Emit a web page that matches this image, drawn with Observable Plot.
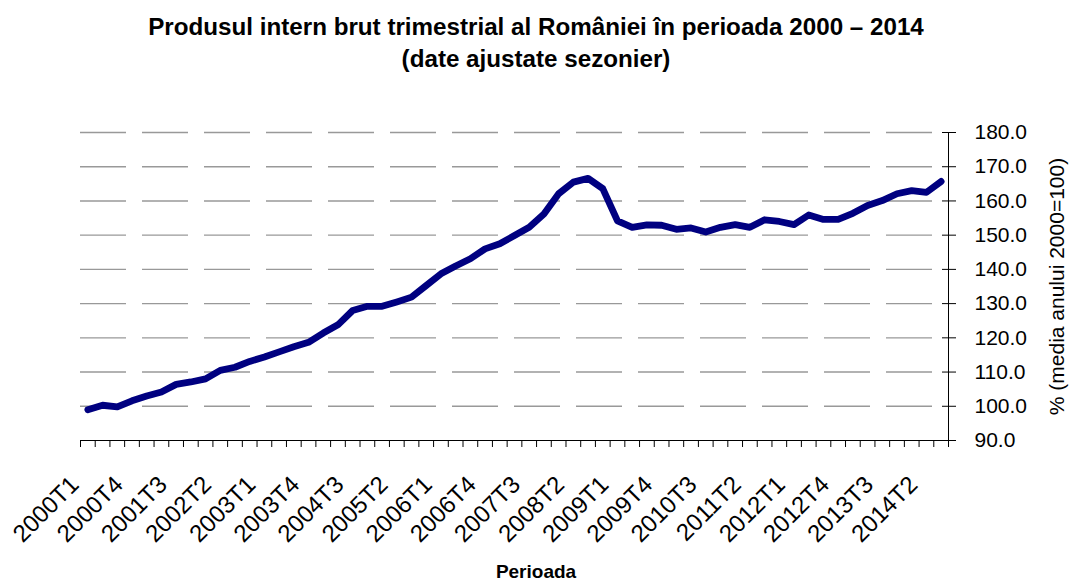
<!DOCTYPE html>
<html><head><meta charset="utf-8">
<script src="https://cdn.jsdelivr.net/npm/d3@7"></script>
<script src="https://cdn.jsdelivr.net/npm/@observablehq/plot@0.6"></script>
<style>body{margin:0;background:#fff;} svg{display:block}</style>
</head><body><div id="chart"></div>
<script>
const periods = [
 "2000T1","2000T2","2000T3","2000T4","2001T1","2001T2","2001T3","2001T4",
 "2002T1","2002T2","2002T3","2002T4","2003T1","2003T2","2003T3","2003T4",
 "2004T1","2004T2","2004T3","2004T4","2005T1","2005T2","2005T3","2005T4",
 "2006T1","2006T2","2006T3","2006T4","2007T1","2007T2","2007T3","2007T4",
 "2008T1","2008T2","2008T3","2008T4","2009T1","2009T2","2009T3","2009T4",
 "2010T1","2010T2","2010T3","2010T4","2011T1","2011T2","2011T3","2011T4",
 "2012T1","2012T2","2012T3","2012T4","2013T1","2013T2","2013T3","2013T4",
 "2014T1","2014T2","2014T3"
];
const gdp = [
 99.0,100.3,99.8,101.6,103.0,104.2,106.4,107.1,
 108.0,110.5,111.4,113.1,114.4,115.9,117.4,118.7,
 121.4,123.8,128.0,129.2,129.2,130.5,131.9,135.3,
 138.7,141.0,143.1,146.0,147.5,149.9,152.3,156.2,
 162.1,165.5,166.6,163.6,154.2,152.3,153.0,152.9,
 151.7,152.1,150.9,152.3,153.1,152.3,154.5,154.0,
 153.1,155.9,154.6,154.6,156.4,158.7,160.1,162.1,
 163.0,162.5,165.7
];
const yTicks = [90,100,110,120,130,140,150,160,170,180];
const titleLines = ["Produsul intern brut trimestrial al României în perioada 2000 – 2014", "(date ajustate sezonier)"];
const xTitle = "Perioada";
const yTitle = "% (media anului 2000=100)";

const data = periods.map((p, i) => ({i, p, v: gdp[i]}));
const n = periods.length;
const boundaries = d3.range(n + 1).map(k => k - 0.5);
const labelIdx = d3.range(0, n, 3);
const font = "'Liberation Sans', Arial, sans-serif";

const chart = Plot.plot({
  width: 1071, height: 580,
  marginLeft: 80, marginRight: 123, marginTop: 132, marginBottom: 140,
  style: {fontFamily: font, background: "#fff", color: "#000"},
  x: {type: "linear", domain: [-0.5, n - 0.5], label: null},
  y: {domain: [90, 180], label: null},
  marks: [
    Plot.ruleY(yTicks.filter(t => t > 90), {stroke: "#999", strokeWidth: 1.4, strokeDasharray: "46,16"}),
    Plot.ruleY([90], {stroke: "#000", strokeWidth: 1}),
    Plot.ruleX([n - 0.5], {stroke: "#000", strokeWidth: 1}),
    Plot.axisX(boundaries, {tickSize: 7, tickFormat: () => "", stroke: "#000", label: null}),
    Plot.axisX(labelIdx, {tickSize: 0, tickPadding: 40, dx: -13, tickFormat: i => periods[i], tickRotate: -45, textAnchor: "end", fontSize: 24, fill: "#000", label: null}),
    Plot.axisY(yTicks, {anchor: "right", tickSize: 14, dx: -7, tickFormat: () => "", stroke: "#000", label: null}),
    Plot.axisY(yTicks, {anchor: "right", tickSize: 0, tickPadding: 26, tickFormat: d => d.toFixed(1), fontSize: 21, fill: "#000", label: null}),
    Plot.line(data, {x: "i", y: "v", stroke: "#000080", strokeWidth: 6.8, strokeLinejoin: "round", strokeLinecap: "round"}),
    Plot.text([titleLines[0]], {frameAnchor: "top", dx: 21.5, dy: -98, lineAnchor: "bottom", fontSize: 24.2, fontWeight: "bold", fill: "#000"}),
    Plot.text([titleLines[1]], {frameAnchor: "top", dx: 21.5, dy: -66, lineAnchor: "bottom", fontSize: 24.2, fontWeight: "bold", fill: "#000"}),
    Plot.text([xTitle], {frameAnchor: "bottom", dx: 21.5, dy: 137, lineAnchor: "bottom", fontSize: 19, fontWeight: "bold", fill: "#000"}),
    Plot.text([yTitle], {frameAnchor: "right", dx: 109, rotate: -90, textAnchor: "middle", fontSize: 21, fill: "#000"})
  ]
});
document.getElementById("chart").appendChild(chart);
</script>
</body></html>
